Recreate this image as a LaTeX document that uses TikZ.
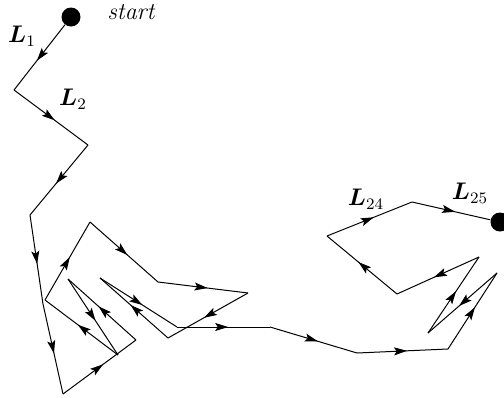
\documentclass[tikz,border=0pt]{standalone}
\usepackage{amsmath}
\usetikzlibrary{decorations.markings,arrows.meta}
\tikzset{
  seg/.style={line width=0.5pt,postaction={decorate},
    decoration={markings,mark=at position 0.55 with {\arrow{Stealth[length=6.5pt,width=4pt,inset=1.3pt]}}}},
  dot/.style={circle,fill=black,inner sep=0pt,minimum size=9.5pt},
  lab/.style={inner sep=0pt,font=\large}
}
\begin{document}
\begin{tikzpicture}[x=0.5pt,y=-0.5pt]
\useasboundingbox (0,0) rectangle (504,397);
\node[dot] (p0) at (71,17) {};
\coordinate (p1) at (14,90);
\coordinate (p2) at (88,145);
\coordinate (p3) at (30,215);
\coordinate (p4) at (43,304);
\coordinate (p5) at (63,394);
\coordinate (p6) at (136,340);
\coordinate (p7) at (68,279);
\coordinate (p8) at (118,355);
\coordinate (p9) at (45,300);
\coordinate (p10) at (90,222);
\coordinate (p11) at (158,282);
\coordinate (p12) at (248,293);
\coordinate (p13) at (168,338);
\coordinate (p14) at (100,278);
\coordinate (p15) at (177,327);
\coordinate (p16) at (270,327);
\coordinate (p17) at (357,353);
\coordinate (p18) at (448,349);
\coordinate (p19) at (497,273);
\coordinate (p20) at (428,333);
\coordinate (p21) at (479,257);
\coordinate (p22) at (397,294);
\coordinate (p23) at (327,236);
\coordinate (p24) at (412,202);
\node[dot] (p25) at (500,222) {};
\foreach \a/\b in {p0/p1,p1/p2,p2/p3,p3/p4,p4/p5,p5/p6,p6/p7,p7/p8,p8/p9,p9/p10,p10/p11,p11/p12,p12/p13,p13/p14,p14/p15,p15/p16,p16/p17,p17/p18,p18/p19,p19/p20,p20/p21,p21/p22,p22/p23,p23/p24,p24/p25}
  \draw[seg] (\a) -- (\b);
\node[lab] (ls) at (132,12) {$\mathit{start}$};
\node[lab] (l1) at (22,36) {$\boldsymbol{L}_1$};
\node[lab] (l2) at (73,99) {$\boldsymbol{L}_2$};
\node[lab] (l24) at (366,199) {$\boldsymbol{L}_{24}$};
\node[lab] (l25) at (470,193) {$\boldsymbol{L}_{25}$};
\end{tikzpicture}
\end{document}
